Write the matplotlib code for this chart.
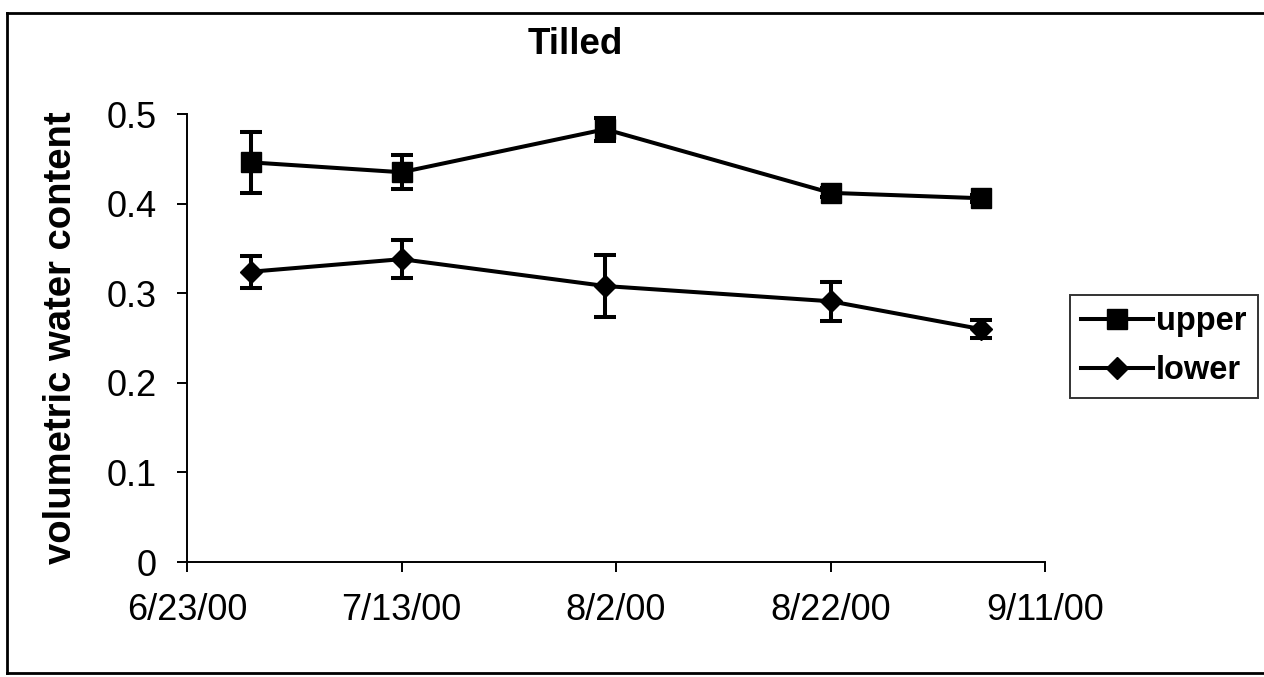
import matplotlib
matplotlib.use("Agg")
import matplotlib.pyplot as plt
import matplotlib.dates as mdates
from matplotlib.lines import Line2D
import datetime as dt

# ---- data ----
dates = ["2000-06-29", "2000-07-13", "2000-08-01", "2000-08-22", "2000-09-05"]
upper = [0.446, 0.435, 0.483, 0.412, 0.406]
upper_err = [0.034, 0.019, 0.013, 0.005, 0.004]
lower = [0.324, 0.338, 0.308, 0.291, 0.260]
lower_err = [0.018, 0.021, 0.035, 0.022, 0.010]
tick_dates = ["2000-06-23", "2000-07-13", "2000-08-02", "2000-08-22", "2000-09-11"]
y_ticks = [0, 0.1, 0.2, 0.3, 0.4, 0.5]
y_tick_labels = ["0", "0.1", "0.2", "0.3", "0.4", "0.5"]
title = "Tilled"
ylabel = "volumetric water content"
series_names = ["upper", "lower"]

plt.rcParams['font.family'] = ['Liberation Sans', 'DejaVu Sans']

W, H = 1264, 677
fig = plt.figure(figsize=(W / 100, H / 100), dpi=100)
ax = fig.add_axes([187 / W, 1 - 562 / H, (1045 - 187) / W, (562 - 114) / H])

x = [dt.datetime.strptime(d, "%Y-%m-%d") for d in dates]
xt = [dt.datetime.strptime(d, "%Y-%m-%d") for d in tick_dates]

common = dict(color='black', lw=2.9, elinewidth=2.9, capsize=8, capthick=2.9)
h1 = ax.errorbar(x, upper, yerr=upper_err, marker='s', markersize=15, **common)
h2 = ax.errorbar(x, lower, yerr=lower_err, marker='D', markersize=11.5, **common)

ax.set_xlim(xt[0], xt[-1])
ax.set_ylim(0, 0.5)
ax.set_xticks(xt)
ax.set_xticklabels([f"{d.month}/{d.day}/{d.strftime('%y')}" for d in xt])
ax.set_yticks(y_ticks)
ax.set_yticklabels(y_tick_labels)

for s in ['top', 'right']:
    ax.spines[s].set_visible(False)
for s in ['left', 'bottom']:
    ax.spines[s].set_linewidth(1.4)
ax.tick_params(axis='both', direction='out', length=7, width=1.4, labelsize=26)
ax.tick_params(axis='x', pad=15)
ax.tick_params(axis='y', pad=15)

fig.text(575 / W, 1 - 45 / H, title, fontsize=26.5, fontweight='bold', ha='center', va='center')
fig.text(61 / W, 1 - 338 / H, ylabel, fontsize=27.5, fontweight='bold', rotation=90,
         ha='center', va='center')

leg_handles = [Line2D([], [], color='black', lw=2.9, marker='s', markersize=14),
               Line2D([], [], color='black', lw=2.9, marker='D', markersize=11.5)]
leg = ax.legend(leg_handles, series_names, loc='upper left',
                bbox_to_anchor=(1070 / W, 1 - 295 / H), bbox_transform=fig.transFigure,
                borderaxespad=0, frameon=True, fancybox=False, edgecolor='black',
                prop={'weight': 'bold', 'size': 23.5}, handlelength=2.2, handletextpad=0.08,
                labelspacing=0.55, borderpad=0.35)
leg.get_frame().set_linewidth(1.4)

# outer frame of the chart area
frame_kw = dict(color='black', lw=2, transform=fig.transFigure)
fig.add_artist(Line2D([7 / W, 7 / W], [1 - 13 / H, 1 - 673 / H], **frame_kw))
fig.add_artist(Line2D([7 / W, 1.0], [1 - 13 / H, 1 - 13 / H], **frame_kw))
fig.add_artist(Line2D([7 / W, 1.0], [1 - 673 / H, 1 - 673 / H], **frame_kw))

fig.savefig("out.png", dpi=100)
